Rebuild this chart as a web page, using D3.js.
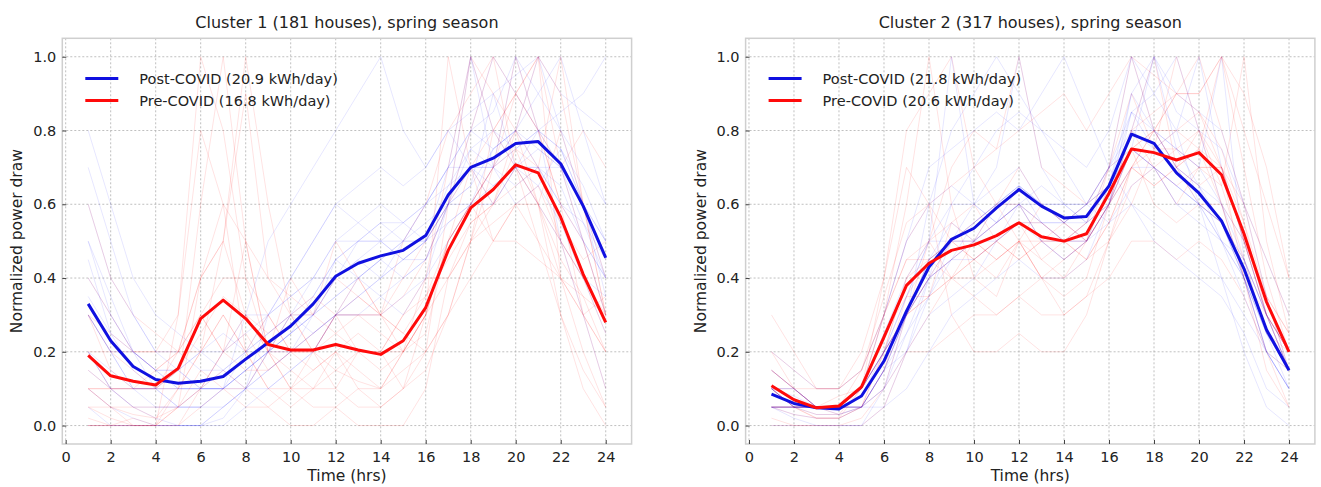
<!DOCTYPE html>
<html>
<head>
<meta charset="utf-8">
<script src="https://cdn.jsdelivr.net/npm/d3@7"></script>
<style>
    body { margin: 0; background: #fff; }
    svg { font-family: "DejaVu Sans", sans-serif; }
</style>
</head>
<body>
<svg id="chart" width="1321" height="487"></svg>
<script>
const hours = d3.range(1, 25);
const xTicks = d3.range(0, 25, 2);
const yTicks = [0, 0.2, 0.4, 0.6, 0.8, 1.0];

const titles = ["Cluster 1 (181 houses), spring season", "Cluster 2 (317 houses), spring season"];
const postLabels = ["Post-COVID (20.9 kWh/day)", "Post-COVID (21.8 kWh/day)"];
const preLabels = ["Pre-COVID (16.8 kWh/day)", "Pre-COVID (20.6 kWh/day)"];

// mean profiles
const c1Post = [0.33, 0.23, 0.16, 0.125, 0.115, 0.12, 0.133, 0.18, 0.225, 0.27, 0.33, 0.405, 0.44, 0.46, 0.475, 0.515, 0.625, 0.70, 0.725, 0.765, 0.77, 0.71, 0.595, 0.455];
const c1Pre = [0.19, 0.135, 0.12, 0.11, 0.155, 0.29, 0.34, 0.29, 0.22, 0.205, 0.205, 0.22, 0.205, 0.193, 0.23, 0.32, 0.475, 0.59, 0.64, 0.707, 0.685, 0.565, 0.41, 0.28];
const c2Post = [0.085, 0.06, 0.048, 0.045, 0.08, 0.175, 0.31, 0.43, 0.505, 0.535, 0.59, 0.64, 0.595, 0.563, 0.567, 0.65, 0.79, 0.765, 0.685, 0.63, 0.555, 0.425, 0.26, 0.15];
const c2Pre = [0.108, 0.07, 0.048, 0.053, 0.105, 0.24, 0.38, 0.44, 0.475, 0.49, 0.515, 0.55, 0.512, 0.5, 0.52, 0.63, 0.75, 0.74, 0.72, 0.74, 0.68, 0.52, 0.335, 0.2];

// a few individual houses (rough reads of the faint background)
const c1PreHouses = [
    [0.1,0.05,0.03,0.02,0.1,0.6,1.0,0.5,0.2,0.15,0.1,0.15,0.12,0.1,0.2,0.3,0.5,0.6,0.7,0.8,0.7,0.5,0.3,0.2],
    [0.3,0.2,0.15,0.1,0.1,0.2,0.3,0.2,0.1,0.1,0.2,0.25,0.2,0.2,0.3,0.4,0.7,1.0,0.8,0.7,0.6,0.5,0.4,0.3],
    [0.05,0.02,0.0,0.0,0.05,0.4,0.5,0.3,0.2,0.3,0.2,0.1,0.2,0.2,0.1,0.3,0.5,0.6,0.7,1.0,0.8,0.6,0.3,0.1],
    [0.2,0.1,0.1,0.15,0.2,0.3,0.4,0.4,0.3,0.2,0.25,0.3,0.2,0.15,0.2,0.3,0.4,0.55,0.6,0.8,1.0,0.7,0.5,0.3],
    [0.0,0.0,0.02,0.0,0.1,0.2,0.3,0.2,0.3,0.2,0.2,0.3,0.3,0.25,0.2,0.25,0.5,0.7,0.6,0.65,0.7,1.0,0.6,0.4],
    [0.4,0.3,0.2,0.2,0.3,1.0,0.8,0.4,0.2,0.1,0.1,0.2,0.1,0.1,0.15,0.2,0.3,0.4,0.5,0.6,0.5,0.4,0.3,0.35],
    [0.1,0.1,0.05,0.05,0.05,0.1,0.2,0.3,0.25,0.3,0.35,0.3,0.3,0.3,0.35,0.45,0.6,0.7,0.8,0.9,0.8,0.6,0.5,0.3],
    [0.15,0.1,0.1,0.1,0.2,0.3,0.2,0.25,0.15,0.2,0.15,0.2,0.25,0.2,0.2,0.3,1.0,0.7,0.5,0.6,0.6,0.4,0.3,0.2],
    [0.3,0.15,0.1,0.1,0.15,0.25,0.35,0.3,0.2,0.2,0.2,0.15,0.2,0.2,0.3,0.35,0.5,0.6,0.7,0.75,0.7,0.55,0.45,0.5],
    [0.05,0.05,0.0,0.0,0.0,0.1,0.2,0.5,0.2,0.1,0.15,0.2,0.15,0.1,0.2,0.4,0.4,0.5,0.6,0.7,0.6,0.8,0.6,0.3],
    [0.2,0.2,0.2,0.15,0.2,0.2,0.5,0.9,0.4,0.3,0.3,0.25,0.3,0.3,0.25,0.2,0.3,0.5,0.55,0.6,0.65,0.5,0.4,0.25],
    [0.1,0.1,0.1,0.1,0.15,0.3,0.2,0.15,0.15,0.2,0.2,0.3,0.35,0.3,0.25,0.35,0.45,0.55,0.6,0.75,0.6,0.45,0.35,0.2],
    [0.0,0.0,0.0,0.0,0.0,0.05,0.1,0.05,0.05,0.1,0.05,0.05,0.1,0.05,0.1,0.2,0.6,1.0,0.9,0.8,0.6,0.3,0.1,0.0],
    [0.02,0.0,0.0,0.0,0.3,0.8,0.6,0.2,0.1,0.05,0.1,0.1,0.05,0.05,0.1,0.15,0.3,0.5,0.7,0.9,1.0,0.9,0.6,0.3],
    [0.6,0.4,0.3,0.25,0.2,0.4,0.6,0.5,0.4,0.35,0.3,0.4,0.35,0.3,0.4,0.5,0.6,0.8,1.0,0.9,0.8,0.7,0.8,0.7],
    [0.0,0.0,0.0,0.0,0.05,0.15,0.1,0.1,0.05,0.0,0.0,0.05,0.0,0.0,0.0,0.1,0.4,0.5,0.8,0.9,1.0,0.4,0.2,0.05],
    [0.3,0.25,0.2,0.2,0.2,0.4,0.5,1.0,0.6,0.3,0.2,0.3,0.4,0.3,0.2,0.3,0.5,0.6,0.5,0.5,0.45,0.4,0.35,0.3],
    [0.1,0.05,0.05,0.02,0.05,0.1,0.15,0.1,0.2,0.4,0.3,0.5,0.4,0.3,0.5,0.6,0.8,0.9,1.0,0.7,0.5,0.3,0.15,0.05]
];
const c1PostHouses = [
    [0.5,0.35,0.2,0.15,0.1,0.1,0.1,0.2,0.3,0.35,0.4,0.5,0.5,0.5,0.55,0.6,0.7,0.8,0.75,0.8,0.9,1.0,0.8,0.6],
    [0.3,0.2,0.1,0.1,0.05,0.05,0.1,0.15,0.2,0.3,0.35,0.45,0.5,0.5,0.45,0.5,0.6,1.0,0.8,0.7,0.7,0.6,0.5,0.4],
    [0.1,0.05,0.02,0.0,0.0,0.0,0.05,0.1,0.2,0.25,0.3,0.4,0.45,0.4,0.5,0.5,0.65,0.7,0.7,1.0,0.8,0.7,0.5,0.3],
    [0.6,0.4,0.3,0.2,0.2,0.15,0.15,0.2,0.2,0.3,0.3,0.35,0.4,0.45,0.4,0.45,0.55,0.6,0.75,0.8,1.0,0.8,0.7,0.6],
    [0.2,0.1,0.1,0.1,0.1,0.1,0.2,0.25,0.3,0.35,0.4,0.5,0.55,0.6,0.55,0.6,0.7,0.7,0.65,0.7,0.7,0.6,0.55,0.4],
    [0.4,0.3,0.2,0.15,0.15,0.2,0.15,0.1,0.15,0.2,0.25,0.3,0.35,0.4,0.45,0.5,0.6,0.75,0.8,0.75,0.8,0.75,0.6,0.5],
    [0.05,0.0,0.0,0.0,0.0,0.0,0.05,0.1,0.15,0.2,0.3,0.45,0.4,0.35,0.4,0.45,0.6,0.65,0.9,0.7,0.75,0.7,0.6,0.4],
    [0.35,0.25,0.2,0.15,0.15,0.1,0.1,0.15,0.2,0.25,0.35,0.45,0.5,0.55,0.5,0.5,0.55,0.6,0.6,0.7,0.65,0.75,0.6,0.5],
    [0.5,0.3,0.2,0.1,0.1,0.1,0.15,0.2,0.25,0.3,0.25,0.3,0.4,0.45,0.5,0.6,0.65,0.75,0.7,0.8,0.75,0.7,0.55,0.45],
    [0.2,0.15,0.1,0.1,0.15,0.2,0.25,0.2,0.25,0.3,0.4,0.4,0.45,0.5,0.45,0.45,0.6,0.6,0.7,0.65,0.7,0.65,0.5,0.4],
    [0.3,0.2,0.2,0.15,0.1,0.1,0.1,0.15,0.2,0.25,0.3,0.35,0.4,0.45,0.5,0.55,0.6,0.7,0.7,0.75,0.8,0.75,0.65,0.5],
    [0.45,0.25,0.15,0.1,0.05,0.05,0.05,0.1,0.2,0.25,0.3,0.4,0.5,0.55,0.55,0.5,0.6,0.65,0.75,0.8,0.7,0.7,0.6,0.45],
    [0.8,0.6,0.4,0.3,0.25,0.2,0.2,0.3,0.3,0.4,0.5,0.6,0.65,0.7,0.65,0.7,0.8,0.85,0.9,0.95,1.0,0.9,0.85,0.8],
    [0.0,0.0,0.0,0.0,0.0,0.0,0.0,0.05,0.1,0.15,0.2,0.3,0.3,0.35,0.3,0.4,0.6,0.8,1.0,0.9,0.8,0.5,0.3,0.1],
    [0.3,0.2,0.1,0.05,0.05,0.1,0.1,0.3,0.5,0.6,0.7,0.8,0.9,1.0,0.8,0.7,0.8,0.7,0.6,0.7,0.6,0.5,0.4,0.35],
    [0.15,0.1,0.05,0.05,0.05,0.05,0.1,0.1,0.1,0.15,0.2,0.3,0.35,0.4,0.45,0.5,0.7,0.8,0.85,1.0,0.9,0.8,0.6,0.35],
    [0.7,0.5,0.3,0.2,0.15,0.1,0.1,0.15,0.2,0.2,0.25,0.3,0.3,0.3,0.35,0.4,0.5,0.6,0.65,0.7,0.8,0.85,0.9,1.0],
    [0.2,0.1,0.05,0.02,0.0,0.0,0.02,0.1,0.3,0.4,0.5,0.6,0.55,0.5,0.5,0.6,0.7,1.0,0.7,0.6,0.65,0.55,0.4,0.25]
];
const c2PreHouses = [
    [0.1,0.05,0.03,0.03,0.1,0.3,0.5,0.6,0.5,0.5,0.55,0.6,0.5,0.5,0.55,0.7,1.0,0.8,0.7,0.75,0.6,0.4,0.3,0.2],
    [0.05,0.03,0.02,0.02,0.05,0.2,0.4,0.5,0.55,0.6,0.5,0.45,0.5,0.45,0.5,0.6,0.7,0.8,0.9,1.0,0.8,0.6,0.35,0.15],
    [0.2,0.1,0.05,0.05,0.1,0.3,0.6,1.0,0.6,0.4,0.35,0.5,0.4,0.4,0.45,0.5,0.65,0.7,0.6,0.7,0.7,0.5,0.35,0.25],
    [0.15,0.1,0.05,0.05,0.1,0.2,0.3,0.4,0.45,0.5,0.6,0.7,0.6,0.55,0.6,0.65,0.75,0.8,0.8,0.75,1.0,0.7,0.4,0.2],
    [0.05,0.05,0.05,0.05,0.1,0.25,0.35,0.35,0.4,0.4,0.45,0.5,0.45,0.5,0.5,0.6,0.8,1.0,0.7,0.6,0.6,0.5,0.3,0.2],
    [0.1,0.1,0.05,0.05,0.15,0.3,0.45,0.45,0.5,0.45,0.5,0.55,0.55,0.5,0.45,0.55,0.7,0.65,0.7,0.8,0.7,0.6,0.45,0.3],
    [0.1,0.05,0.05,0.08,0.1,0.2,0.3,0.35,0.4,0.45,0.4,0.5,0.5,0.55,0.5,0.6,0.75,0.7,0.65,0.7,0.65,1.0,0.5,0.25],
    [0.05,0.05,0.02,0.02,0.05,0.15,0.3,0.4,0.5,0.55,0.6,0.6,0.55,0.5,0.55,0.6,0.7,0.75,0.75,0.7,0.7,0.5,0.3,0.15],
    [0.2,0.15,0.1,0.1,0.15,0.3,0.45,0.5,0.4,0.45,0.5,0.55,0.45,0.4,0.5,0.65,0.8,0.7,0.75,0.8,0.65,0.45,0.25,0.2],
    [0.1,0.05,0.05,0.03,0.05,0.2,0.3,0.35,0.55,0.5,0.45,0.5,0.6,0.55,0.5,0.6,0.75,0.8,0.7,0.65,0.7,0.55,0.3,0.15],
    [0.15,0.1,0.05,0.05,0.1,0.2,0.4,0.45,0.4,0.5,0.45,0.5,0.4,0.45,0.5,0.7,0.9,0.75,0.8,0.85,0.75,0.55,0.35,0.25],
    [0.05,0.05,0.05,0.05,0.05,0.15,0.35,0.45,0.5,0.45,0.5,0.45,0.5,0.5,0.45,0.55,0.7,0.65,0.7,0.75,0.7,0.5,0.3,0.2],
    [0.0,0.0,0.0,0.0,0.02,0.1,0.3,0.5,0.7,0.8,0.75,0.8,0.85,0.9,0.8,0.9,1.0,0.95,0.9,0.85,0.7,0.4,0.15,0.05],
    [0.3,0.2,0.1,0.1,0.2,0.4,0.7,0.6,0.3,0.2,0.2,0.25,0.2,0.2,0.3,0.5,0.7,0.8,0.9,0.9,1.0,0.8,0.6,0.4],
    [0.02,0.0,0.0,0.0,0.0,0.05,0.2,0.3,0.4,0.35,0.3,0.35,0.3,0.3,0.35,0.5,0.6,0.75,1.0,0.8,0.6,0.4,0.2,0.05],
    [0.1,0.05,0.02,0.02,0.1,0.4,0.8,0.9,1.0,0.7,0.6,0.5,0.4,0.3,0.35,0.4,0.5,0.5,0.45,0.5,0.45,0.35,0.2,0.15],
    [0.05,0.05,0.05,0.05,0.05,0.1,0.2,0.2,0.25,0.3,0.3,0.35,0.4,0.35,0.4,0.6,0.8,0.85,0.9,0.9,1.0,0.9,0.7,0.4],
    [0.15,0.1,0.1,0.1,0.15,0.35,0.55,0.6,0.65,0.7,0.75,1.0,0.7,0.65,0.6,0.7,0.75,0.6,0.55,0.6,0.55,0.45,0.3,0.2]
];
const c2PostHouses = [
    [0.1,0.05,0.05,0.05,0.1,0.2,0.35,0.5,0.6,0.6,0.65,0.7,0.6,0.55,0.55,0.7,1.0,0.8,0.7,0.6,0.5,0.4,0.25,0.15],
    [0.05,0.03,0.02,0.02,0.05,0.15,0.3,0.45,0.5,0.55,0.6,0.65,0.6,0.6,0.6,0.65,0.8,1.0,0.75,0.65,0.55,0.4,0.25,0.1],
    [0.1,0.05,0.05,0.05,0.05,0.1,0.25,0.35,0.5,0.6,0.7,1.0,0.7,0.6,0.55,0.6,0.7,0.7,0.6,0.6,0.5,0.45,0.3,0.15],
    [0.15,0.1,0.05,0.05,0.1,0.2,0.3,0.4,0.45,0.5,0.5,0.55,0.55,0.5,0.5,0.6,0.85,0.75,0.8,1.0,0.7,0.5,0.3,0.2],
    [0.05,0.05,0.05,0.03,0.05,0.15,0.3,0.4,0.45,0.45,0.5,0.6,0.6,0.55,0.6,0.7,0.75,0.7,0.65,0.6,0.55,0.4,0.2,0.1],
    [0.1,0.1,0.05,0.05,0.1,0.25,0.4,0.5,0.5,0.5,0.55,0.6,0.55,0.5,0.55,0.6,0.8,0.75,0.7,0.65,0.6,0.45,0.3,0.2],
    [0.05,0.05,0.03,0.03,0.05,0.1,0.2,0.35,0.45,0.55,0.6,0.65,0.6,0.6,0.6,0.7,0.8,0.8,0.75,0.7,0.6,0.5,0.3,0.15],
    [0.15,0.1,0.05,0.05,0.1,0.2,0.3,0.45,0.55,0.5,0.6,0.65,0.55,0.55,0.5,0.6,0.75,0.7,0.65,0.6,0.55,0.4,0.2,0.15],
    [0.1,0.05,0.05,0.05,0.08,0.2,0.35,0.5,1.0,0.6,0.55,0.6,0.5,0.5,0.5,0.55,0.65,0.7,0.6,0.55,0.5,0.4,0.25,0.15],
    [0.05,0.05,0.05,0.05,0.05,0.15,0.25,0.4,0.5,0.5,0.55,0.6,0.65,0.6,0.55,0.65,0.9,0.8,0.7,0.65,0.5,0.35,0.2,0.1],
    [0.1,0.08,0.05,0.05,0.1,0.2,0.3,0.4,0.45,0.5,0.55,0.65,0.6,0.55,0.6,0.7,0.85,0.8,0.75,0.7,1.0,0.45,0.25,0.15],
    [0.05,0.05,0.05,0.05,0.05,0.15,0.3,0.45,0.5,0.55,0.6,0.6,0.55,0.55,0.6,0.65,0.75,0.7,0.65,0.6,0.55,0.45,0.3,0.15],
    [0.0,0.0,0.0,0.0,0.0,0.05,0.2,0.4,0.6,0.7,0.8,0.85,0.8,0.75,0.7,0.8,1.0,0.9,0.8,0.6,0.4,0.2,0.05,0.0],
    [0.2,0.15,0.1,0.1,0.15,0.3,0.5,0.6,0.65,0.6,0.55,0.6,0.5,0.45,0.5,0.6,0.75,1.0,0.85,0.8,0.75,0.6,0.45,0.3],
    [0.05,0.02,0.0,0.0,0.0,0.1,0.3,0.6,0.8,0.9,1.0,0.9,0.8,0.7,0.6,0.55,0.6,0.5,0.45,0.4,0.35,0.25,0.1,0.05],
    [0.1,0.05,0.05,0.05,0.05,0.05,0.1,0.2,0.3,0.35,0.4,0.45,0.4,0.4,0.45,0.6,0.9,1.0,0.9,0.85,0.8,0.6,0.35,0.15],
    [0.05,0.05,0.05,0.05,0.1,0.3,0.5,0.7,0.75,0.8,0.85,0.8,0.9,1.0,0.85,0.7,0.6,0.55,0.5,0.45,0.4,0.3,0.2,0.1],
    [0.1,0.1,0.05,0.05,0.05,0.15,0.2,0.3,0.35,0.4,0.5,0.55,0.5,0.45,0.5,0.65,0.85,0.9,1.0,0.8,0.6,0.4,0.2,0.1]
];

const panels = [
    { left: 62.3, post: c1Post, pre: c1Pre, postHouses: c1PostHouses, preHouses: c1PreHouses },
    { left: 745.6, post: c2Post, pre: c2Pre, postHouses: c2PostHouses, preHouses: c2PreHouses }
];

const plotW = 569.3;
const plotTop = 38.3;
const plotBottom = 444;

const svg = d3.select("#chart");

function drawPanel(p, i) {
    const x = d3.scaleLinear().domain([-0.15, 25.15]).range([p.left, p.left + plotW]);
    const y = d3.scaleLinear().domain([-0.05, 1.05]).range([plotBottom, plotTop]);
    const g = svg.append("g");

    // grid
    g.selectAll(".vgrid").data(xTicks).enter().append("line")
        .attr("x1", d => x(d)).attr("x2", d => x(d))
        .attr("y1", plotTop).attr("y2", plotBottom)
        .attr("stroke", "#b0b0b0").attr("stroke-width", 0.8)
        .attr("stroke-dasharray", "2,2");
    g.selectAll(".hgrid").data(yTicks).enter().append("line")
        .attr("x1", p.left).attr("x2", p.left + plotW)
        .attr("y1", d => y(d)).attr("y2", d => y(d))
        .attr("stroke", "#b0b0b0").attr("stroke-width", 0.8)
        .attr("stroke-dasharray", "2,2");

    const line = d3.line()
        .x((d, j) => x(hours[j]))
        .y(d => y(d));

    // faint houses
    p.preHouses.forEach(h => {
        g.append("path").datum(h)
            .attr("fill", "none").attr("stroke", "red")
            .attr("stroke-opacity", 0.13).attr("stroke-width", 0.9)
            .attr("d", line);
    });
    p.postHouses.forEach(h => {
        g.append("path").datum(h)
            .attr("fill", "none").attr("stroke", "blue")
            .attr("stroke-opacity", 0.11).attr("stroke-width", 0.9)
            .attr("d", line);
    });

    // means
    g.append("path").datum(p.post)
        .attr("fill", "none").attr("stroke", "#1010e0")
        .attr("stroke-width", 3).attr("stroke-linejoin", "round")
        .attr("d", line);
    g.append("path").datum(p.pre)
        .attr("fill", "none").attr("stroke", "#ff0a0a")
        .attr("stroke-width", 3).attr("stroke-linejoin", "round")
        .attr("d", line);

    // frame
    g.append("rect")
        .attr("x", p.left).attr("y", plotTop)
        .attr("width", plotW).attr("height", plotBottom - plotTop)
        .attr("fill", "none").attr("stroke", "#cfcfcf").attr("stroke-width", 1.5);

    // axes (inward ticks)
    const xAxis = g.append("g").attr("transform", `translate(0,${plotBottom})`)
        .call(d3.axisBottom(x).tickValues(xTicks).tickSizeInner(-4).tickSizeOuter(0).tickPadding(8));
    const yAxis = g.append("g").attr("transform", `translate(${p.left},0)`)
        .call(d3.axisLeft(y).tickValues(yTicks).tickFormat(d3.format(".1f")).tickSizeInner(-4).tickSizeOuter(0).tickPadding(6));
    [xAxis, yAxis].forEach(a => {
        a.select(".domain").remove();
        a.selectAll(".tick line").attr("stroke", "#444").attr("stroke-width", 1);
        a.selectAll(".tick text").attr("fill", "#222").style("font-size", "14.5px")
            .style("font-family", "DejaVu Sans, sans-serif");
    });

    const cx = p.left + plotW / 2;
    g.append("text").attr("x", cx).attr("y", 28)
        .attr("text-anchor", "middle").attr("fill", "#222").style("font-size", "16px")
        .text(titles[i]);
    g.append("text").attr("x", cx).attr("y", 481)
        .attr("text-anchor", "middle").attr("fill", "#222").style("font-size", "15.5px")
        .text("Time (hrs)");
    g.append("text")
        .attr("transform", `translate(${p.left - 40},${(plotTop + plotBottom) / 2}) rotate(-90)`)
        .attr("text-anchor", "middle").attr("fill", "#222").style("font-size", "15.5px")
        .text("Normalized power draw");

    // legend
    const legend = [
        { label: postLabels[i], color: "#1010e0", y: 78.5 },
        { label: preLabels[i], color: "#ff0a0a", y: 100.5 }
    ];
    legend.forEach(l => {
        g.append("line")
            .attr("x1", p.left + 23).attr("x2", p.left + 56)
            .attr("y1", l.y).attr("y2", l.y)
            .attr("stroke", l.color).attr("stroke-width", 3);
        g.append("text").attr("x", p.left + 77).attr("y", l.y + 5)
            .attr("fill", "#222").style("font-size", "14.5px")
            .text(l.label);
    });
}

panels.forEach(drawPanel);
</script>
</body>
</html>
